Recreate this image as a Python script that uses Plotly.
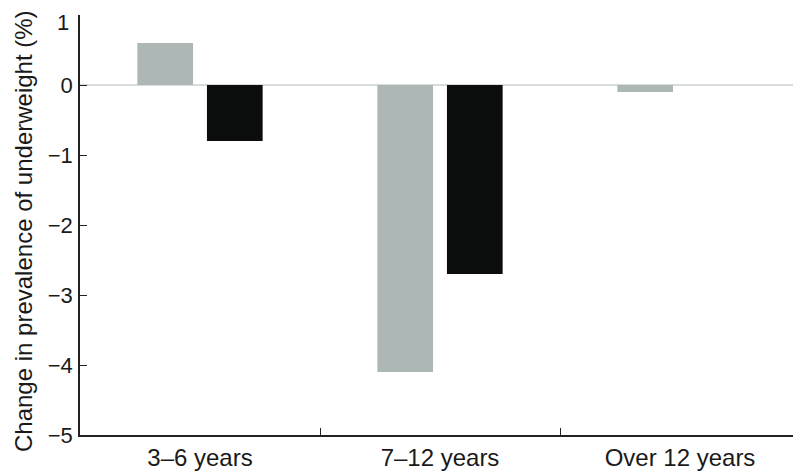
import plotly.graph_objects as go

categories = ["3–6 years", "7–12 years", "Over 12 years"]
series_a = [0.6, -4.1, -0.1]
series_b = [-0.8, -2.7, 0.0]
y_ticks = [1, 0, -1, -2, -3, -4, -5]
y_title = "Change in prevalence of underweight (%)"

def fmt(v):
    return str(v).replace("-", "−")

fig = go.Figure()
fig.add_trace(go.Bar(x=categories, y=series_a, marker=dict(color="#adb7b5", line=dict(width=0)), name="A"))
fig.add_trace(go.Bar(x=categories, y=series_b, marker=dict(color="#0b0d0c", line=dict(width=0)), name="B"))

# page body has an 8px margin, so the figure is shifted by 8px right and down
fig.update_layout(
    width=793, height=466,
    margin=dict(l=72, r=1, t=7, b=39),
    paper_bgcolor="white", plot_bgcolor="white",
    barmode="group", bargap=0.42, bargroupgap=0.2,
    showlegend=False,
    font=dict(family="Liberation Sans, Arial, sans-serif", color="#1a1a1a"),
)
fig.update_xaxes(
    type="category", tickson="boundaries", ticks="inside", ticklen=7, tickwidth=1, tickcolor="#222",
    showline=True, linecolor="#222", linewidth=1.5, showgrid=False,
    tickfont=dict(size=24), zeroline=False, automargin=False, ticklabelstandoff=0,
    ticklabeloverflow="allow",
)
# top tick label is drawn separately (nudged down so it stays inside the page, as in the reference)
fig.update_yaxes(
    range=[-5, 1], tickvals=y_ticks,
    ticktext=["" if v == y_ticks[0] else fmt(v) for v in y_ticks],
    ticks="inside", ticklen=7, tickwidth=1, tickcolor="#222",
    showline=True, linecolor="#222", linewidth=1.5, showgrid=False,
    zeroline=True, zerolinecolor="#d8dcdc", zerolinewidth=2,
    tickfont=dict(size=22), automargin=False, ticklabelstandoff=1,
    ticklabeloverflow="allow",
)
fig.add_annotation(
    text=fmt(y_ticks[0]), xref="paper", yref="y", x=0, y=y_ticks[0], xanchor="right", yanchor="middle",
    xshift=-9, yshift=-7, showarrow=False, font=dict(size=22),
)
fig.add_annotation(
    text=y_title, xref="paper", yref="paper", x=0, y=0.5, xanchor="center", yanchor="middle",
    xshift=-57, yshift=-6, textangle=-90, showarrow=False, font=dict(size=24),
)
fig.write_html("out.html")
